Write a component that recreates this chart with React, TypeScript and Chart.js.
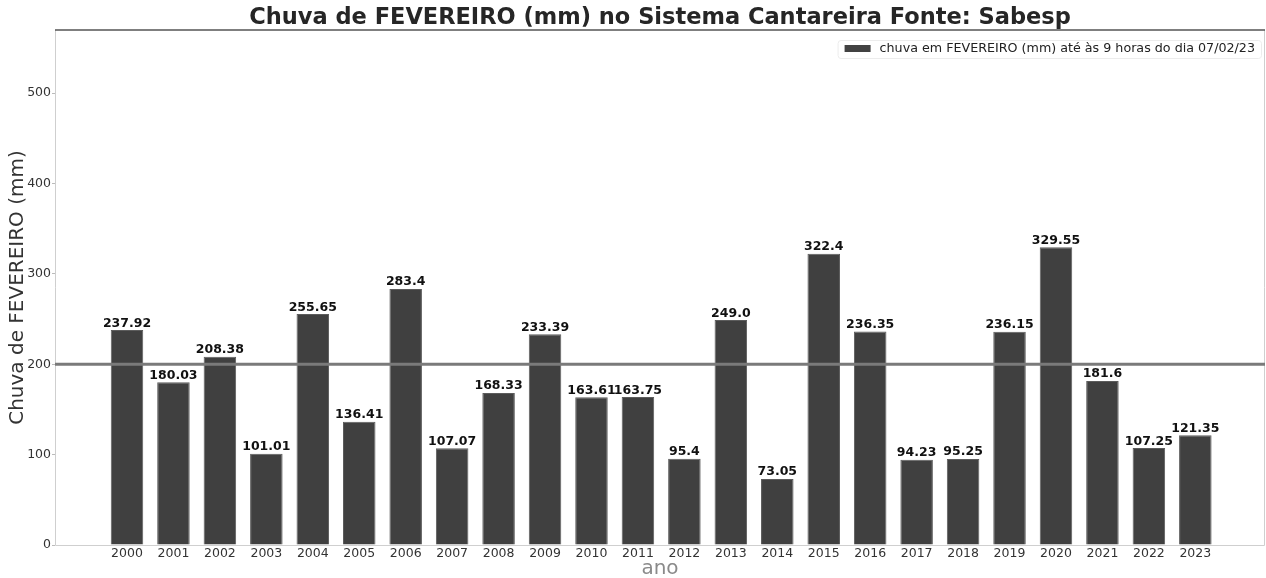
import React, { useEffect, useRef } from "react";
import { Chart, registerables } from "chart.js";

Chart.register(...registerables);

const TITLE = "Chuva de FEVEREIRO (mm) no Sistema Cantareira Fonte: Sabesp";
const LEGEND_LABEL = "chuva em FEVEREIRO (mm) até às 9 horas do dia 07/02/23";
const Y_TITLE = "Chuva de FEVEREIRO (mm)";
const X_TITLE = "ano";

const YEARS = [
  2000, 2001, 2002, 2003, 2004, 2005, 2006, 2007, 2008, 2009, 2010, 2011,
  2012, 2013, 2014, 2015, 2016, 2017, 2018, 2019, 2020, 2021, 2022, 2023,
];
const RAIN = [
  237.92, 180.03, 208.38, 101.01, 255.65, 136.41, 283.4, 107.07, 168.33,
  233.39, 163.61, 163.75, 95.4, 249.0, 73.05, 322.4, 236.35, 94.23, 95.25,
  236.15, 329.55, 181.6, 107.25, 121.35,
];
const Y_TICKS = [0, 100, 200, 300, 400, 500];
const Y_MAX = 570;
const X_MIN = 1998.45;
const X_MAX = 2024.5;
const REFERENCE_LEVEL = 200;

const FONT = '"DejaVu Sans", "Liberation Sans", sans-serif';

const fmt = (v: number) => (Number.isInteger(v) ? v.toFixed(1) : String(v));

const decorPlugin = {
  id: "decor",
  afterDatasetsDraw(chart: any) {
    const { ctx, chartArea, scales } = chart;
    const { left, right, top, bottom } = chartArea;
    ctx.save();
    // frame
    ctx.lineWidth = 1;
    ctx.strokeStyle = "#cfcfcf";
    ctx.beginPath();
    ctx.moveTo(left + 0.5, top);
    ctx.lineTo(left + 0.5, bottom + 0.5);
    ctx.lineTo(right - 0.5, bottom + 0.5);
    ctx.lineTo(right - 0.5, top);
    ctx.stroke();
    ctx.strokeStyle = "#555555";
    ctx.lineWidth = 1.5;
    ctx.beginPath();
    ctx.moveTo(left, top);
    ctx.lineTo(right, top);
    ctx.stroke();

    // reference line
    const yRef = scales.y.getPixelForValue(REFERENCE_LEVEL);
    ctx.strokeStyle = "#7a7a7a";
    ctx.lineWidth = 3;
    ctx.beginPath();
    ctx.moveTo(left, yRef);
    ctx.lineTo(right, yRef);
    ctx.stroke();

    // value labels
    const meta = chart.getDatasetMeta(0);
    ctx.fillStyle = "#111111";
    ctx.font = `bold 12.5px ${FONT}`;
    ctx.textAlign = "center";
    ctx.textBaseline = "alphabetic";
    meta.data.forEach((bar: any, i: number) => {
      ctx.fillText(fmt(RAIN[i]), bar.x, bar.y - 3.5);
    });

    // title
    ctx.fillStyle = "#262626";
    ctx.font = `bold 22.5px ${FONT}`;
    ctx.textAlign = "center";
    ctx.fillText(TITLE, (left + right) / 2, 23.5);

    // legend
    ctx.font = `12.7px ${FONT}`;
    ctx.textAlign = "left";
    ctx.textBaseline = "middle";
    const textW = ctx.measureText(LEGEND_LABEL).width;
    const textRight = right - 10;
    const textX = textRight - textW;
    const patchW = 26;
    const patchX = textX - 9 - patchW;
    const boxX = patchX - 7;
    const boxY = top + 10;
    const boxW = right - 4 - boxX;
    const boxH = 18;
    ctx.strokeStyle = "#ececec";
    ctx.lineWidth = 1;
    ctx.beginPath();
    (ctx as any).roundRect(boxX + 0.5, boxY + 0.5, boxW, boxH, 3);
    ctx.stroke();
    ctx.fillStyle = "#424242";
    ctx.fillRect(patchX, boxY + 5, patchW, 7);
    ctx.fillStyle = "#222222";
    ctx.fillText(LEGEND_LABEL, textX, boxY + 8.5);
    ctx.restore();
  },
};

export default function App() {
  const ref = useRef<HTMLCanvasElement | null>(null);

  useEffect(() => {
    document.body.style.margin = "0";
    const canvas = ref.current;
    if (!canvas) return;
    const chart = new Chart(canvas, {
      type: "bar",
      data: {
        datasets: [
          {
            label: LEGEND_LABEL,
            data: YEARS.map((x, i) => ({ x, y: RAIN[i] })),
            backgroundColor: "#404040",
            borderColor: "#5c5c5c",
            borderWidth: 1,
            categoryPercentage: 1,
            barPercentage: 0.7,
          },
        ],
      },
      options: {
        responsive: false,
        animation: false,
        layout: { padding: { top: 30, right: 1, left: 0, bottom: 0 } },
        plugins: {
          legend: { display: false },
          title: { display: false },
          tooltip: { enabled: false },
        },
        scales: {
          x: {
            type: "linear",
            offset: false,
            min: X_MIN,
            max: X_MAX,
            afterBuildTicks: (s: any) => {
              s.ticks = YEARS.map((v) => ({ value: v }));
            },
            afterFit: (s: any) => {
              s.height = 33;
            },
            grid: { display: false, drawTicks: false, tickLength: 0, offset: false },
            border: { display: false },
            ticks: {
              padding: 1,
              color: "#333333",
              font: { family: FONT, size: 12.5 },
              maxRotation: 0,
              autoSkip: false,
              callback: (v: any) => String(v),
            },
            title: {
              display: true,
              text: X_TITLE,
              color: "#8a8a8a",
              font: { family: FONT, size: 20 },
              padding: { top: 0, bottom: -3 },
            },
          },
          y: {
            min: 0,
            max: Y_MAX,
            afterBuildTicks: (s: any) => {
              s.ticks = Y_TICKS.map((v) => ({ value: v }));
            },
            afterFit: (s: any) => {
              s.width = 55;
            },
            grid: {
              drawOnChartArea: false,
              drawTicks: true,
              tickLength: 3,
              tickColor: "#bbbbbb",
            },
            border: { display: false },
            ticks: {
              padding: 1,
              color: "#333333",
              font: { family: FONT, size: 12.5 },
            },
            title: {
              display: true,
              text: Y_TITLE,
              color: "#333333",
              font: { family: FONT, size: 20 },
              padding: { top: 6, bottom: 0 },
            },
          },
        },
      },
      plugins: [decorPlugin],
    } as any);
    return () => chart.destroy();
  }, []);

  return (
    <div style={{ position: "fixed", left: 0, top: 0, width: 1266, height: 578, background: "#fff" }}>
      <canvas ref={ref} width={1266} height={578} style={{ display: "block" }} />
    </div>
  );
}
